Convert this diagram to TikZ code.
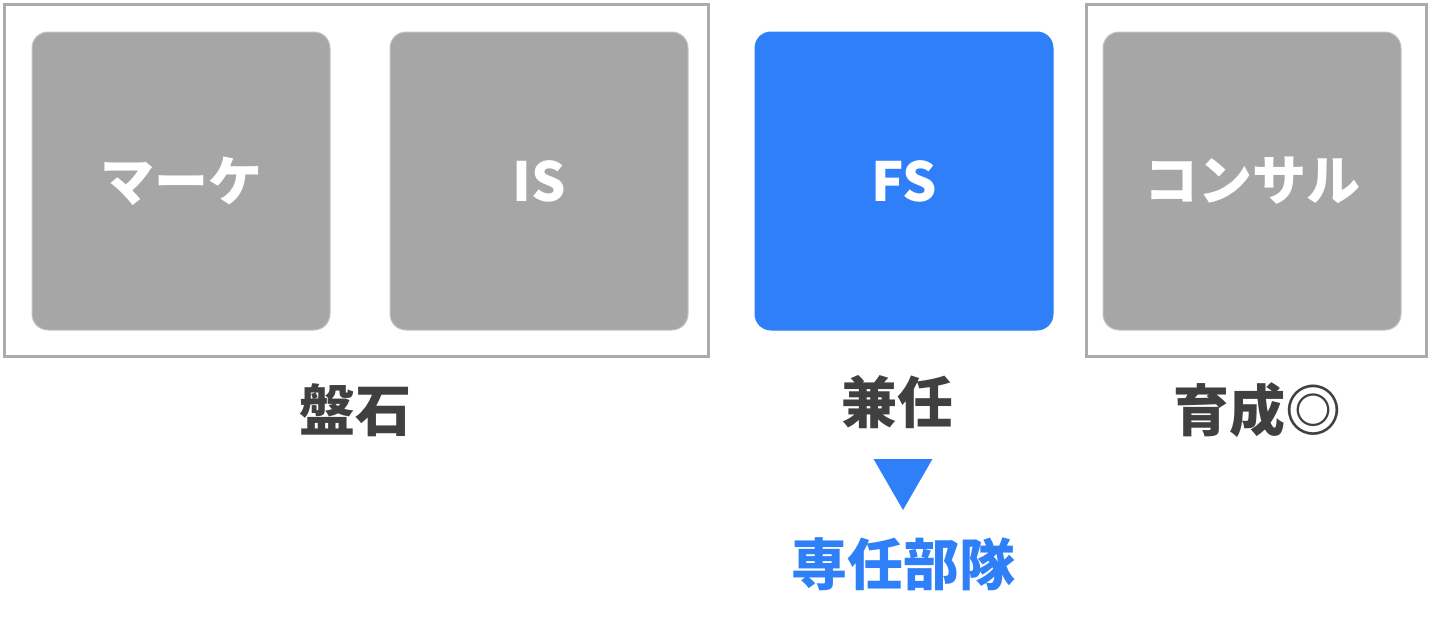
\documentclass[tikz,border=0pt]{standalone}
\usepackage{fontspec}
\setmainfont{Noto Sans CJK JP}
\usetikzlibrary{positioning,calc,shapes.geometric}

\definecolor{panelgray}{HTML}{A6A6A6}
\definecolor{framegray}{HTML}{ABABAB}
\definecolor{fsblue}{HTML}{2F80F8}
\definecolor{labeldark}{HTML}{404040}

\tikzset{
  panel/.style={rectangle, rounded corners=16pt, fill=panelgray, draw=framegray!70!white, line width=1pt,
    minimum size=298pt, inner sep=0pt, text=white, font=\fontsize{54}{54}\selectfont\bfseries},
  frame/.style={draw=framegray, line width=3pt},
  caption/.style={text=labeldark, inner sep=0pt, font=\fontsize{56}{56}\selectfont\bfseries}
}

\begin{document}
\begin{tikzpicture}[x=1pt, y=-1pt]
\useasboundingbox (0,0) rectangle (1440,637);

% Les quatre panneaux
\node[panel] (mk) at (181,181) {マーケ};
\node[panel] (is) at (539,181) {IS};
\node[panel, fill=fsblue, draw=fsblue] (fs) at (904,181) {FS};
\node[panel] (cs) at (1252,181) {コンサル};

% Les cadres
\draw[frame] ($(mk.north west)+(-27.5,-27.5)$) rectangle ($(is.south east)+(19.5,25.5)$);
\draw[frame] ($(cs.north west)+(-16.5,-27.5)$) rectangle ($(cs.south east)+(24.5,25.5)$);

% Les légendes
\node[caption] (bseki) at (355,410) {盤石};
\node[caption] (kennin) at (897,402) {兼任};
\node[caption] (ikusei) at (1257,410) {育成◎};

% La flèche vers le bas
\node[regular polygon, regular polygon sides=3, shape border rotate=180, fill=fsblue,
  minimum size=68pt, inner sep=0pt] (tri) at (903,476) {};
\node[caption, text=fsblue] (senin) at (903,564) {専任部隊};

\end{tikzpicture}
\end{document}
